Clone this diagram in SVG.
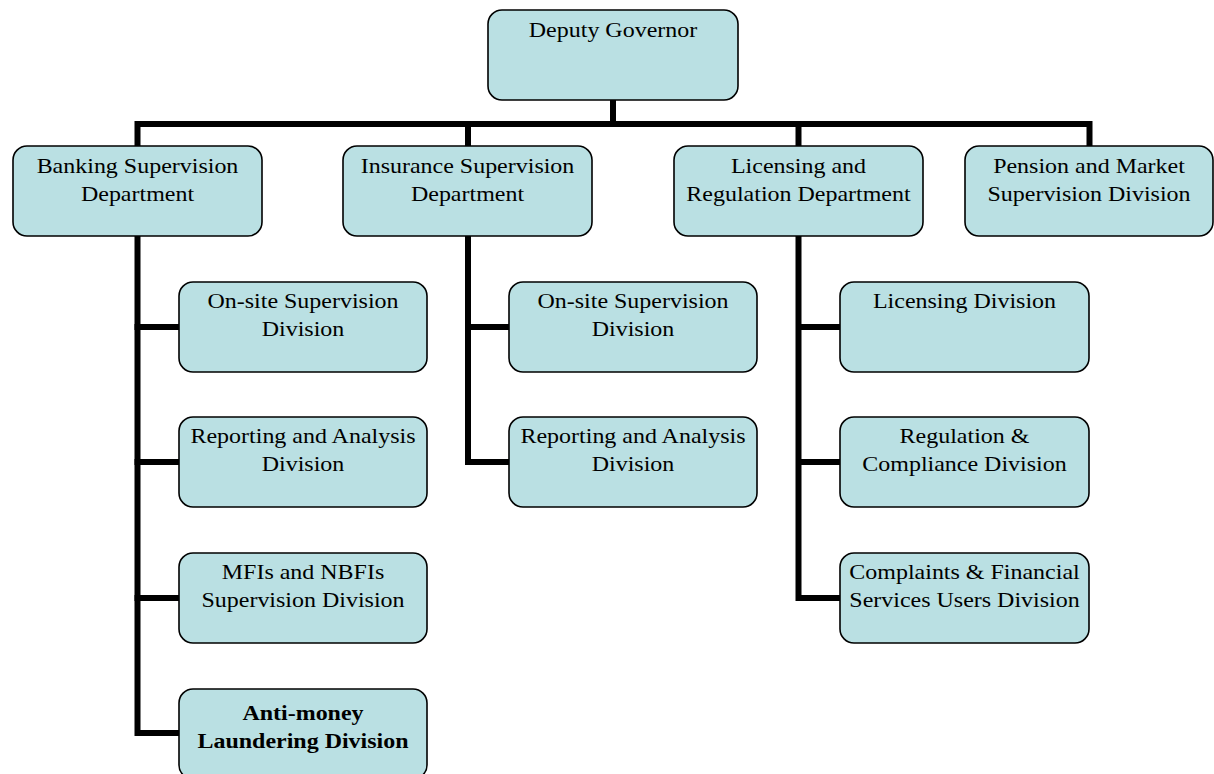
<svg xmlns="http://www.w3.org/2000/svg" width="1214" height="774" viewBox="0 0 1214 774">
<style>
.box{fill:#BAE0E3;stroke:#000;stroke-width:1.6}
.t{font-family:"Liberation Serif","Times New Roman",serif;font-size:22px;fill:#000;text-anchor:middle}
.b{font-weight:bold}
.c{fill:none;stroke:#000;stroke-width:6;stroke-linejoin:miter;stroke-linecap:square}
</style>
<rect width="1214" height="774" fill="#fff"/>
<g id="connectors">
<path class="c" d="M613 100V124"/>
<path class="c" d="M137.5 146V124H1089.5V146"/>
<path class="c" d="M468 124V146"/>
<path class="c" d="M798.5 124V146"/>
<path class="c" d="M137.5 236V733H179"/>
<path class="c" d="M137.5 327H179M137.5 462H179M137.5 598H179"/>
<path class="c" d="M468 236V462H509M468 327H509"/>
<path class="c" d="M798.5 236V598H840M798.5 327H840M798.5 462H840"/>
</g>
<g id="deputy-governor"><rect class="box" x="488" y="10" width="250" height="90" rx="14"/><text class="t" transform="translate(613 37) scale(1.09 1)">Deputy Governor</text></g>
<g id="banking"><rect class="box" x="13" y="146" width="249" height="90" rx="14"/><text class="t" transform="translate(137.5 173) scale(1.09 1)">Banking Supervision</text><text class="t" transform="translate(137.5 201) scale(1.09 1)">Department</text></g>
<g id="insurance"><rect class="box" x="343" y="146" width="249" height="90" rx="14"/><text class="t" transform="translate(467.5 173) scale(1.09 1)">Insurance Supervision</text><text class="t" transform="translate(467.5 201) scale(1.09 1)">Department</text></g>
<g id="licensing"><rect class="box" x="674" y="146" width="249" height="90" rx="14"/><text class="t" transform="translate(798.5 173) scale(1.09 1)">Licensing and</text><text class="t" transform="translate(798.5 201) scale(1.09 1)">Regulation Department</text></g>
<g id="pension"><rect class="box" x="965" y="146" width="248" height="90" rx="14"/><text class="t" transform="translate(1089 173) scale(1.09 1)">Pension and Market</text><text class="t" transform="translate(1089 201) scale(1.09 1)">Supervision Division</text></g>
<g id="b-onsite"><rect class="box" x="179" y="282" width="248" height="90" rx="14"/><text class="t" transform="translate(303 308) scale(1.09 1)">On-site Supervision</text><text class="t" transform="translate(303 336) scale(1.09 1)">Division</text></g>
<g id="b-reporting"><rect class="box" x="179" y="417" width="248" height="90" rx="14"/><text class="t" transform="translate(303 443) scale(1.09 1)">Reporting and Analysis</text><text class="t" transform="translate(303 471) scale(1.09 1)">Division</text></g>
<g id="b-mfi"><rect class="box" x="179" y="553" width="248" height="90" rx="14"/><text class="t" transform="translate(303 579) scale(1.09 1)">MFIs and NBFIs</text><text class="t" transform="translate(303 607) scale(1.09 1)">Supervision Division</text></g>
<g id="b-aml"><rect class="box" x="179" y="689" width="248" height="90" rx="14"/><text class="t b" transform="translate(303 720) scale(1.09 1)">Anti-money</text><text class="t b" transform="translate(303 748) scale(1.09 1)">Laundering Division</text></g>
<g id="i-onsite"><rect class="box" x="509" y="282" width="248" height="90" rx="14"/><text class="t" transform="translate(633 308) scale(1.09 1)">On-site Supervision</text><text class="t" transform="translate(633 336) scale(1.09 1)">Division</text></g>
<g id="i-reporting"><rect class="box" x="509" y="417" width="248" height="90" rx="14"/><text class="t" transform="translate(633 443) scale(1.09 1)">Reporting and Analysis</text><text class="t" transform="translate(633 471) scale(1.09 1)">Division</text></g>
<g id="l-licensing"><rect class="box" x="840" y="282" width="249" height="90" rx="14"/><text class="t" transform="translate(964.5 308) scale(1.09 1)">Licensing Division</text></g>
<g id="l-regulation"><rect class="box" x="840" y="417" width="249" height="90" rx="14"/><text class="t" transform="translate(964.5 443) scale(1.09 1)">Regulation &amp;</text><text class="t" transform="translate(964.5 471) scale(1.09 1)">Compliance Division</text></g>
<g id="l-complaints"><rect class="box" x="840" y="553" width="249" height="90" rx="14"/><text class="t" transform="translate(964.5 579) scale(1.09 1)">Complaints &amp; Financial</text><text class="t" transform="translate(964.5 607) scale(1.09 1)">Services Users Division</text></g>
</svg>
